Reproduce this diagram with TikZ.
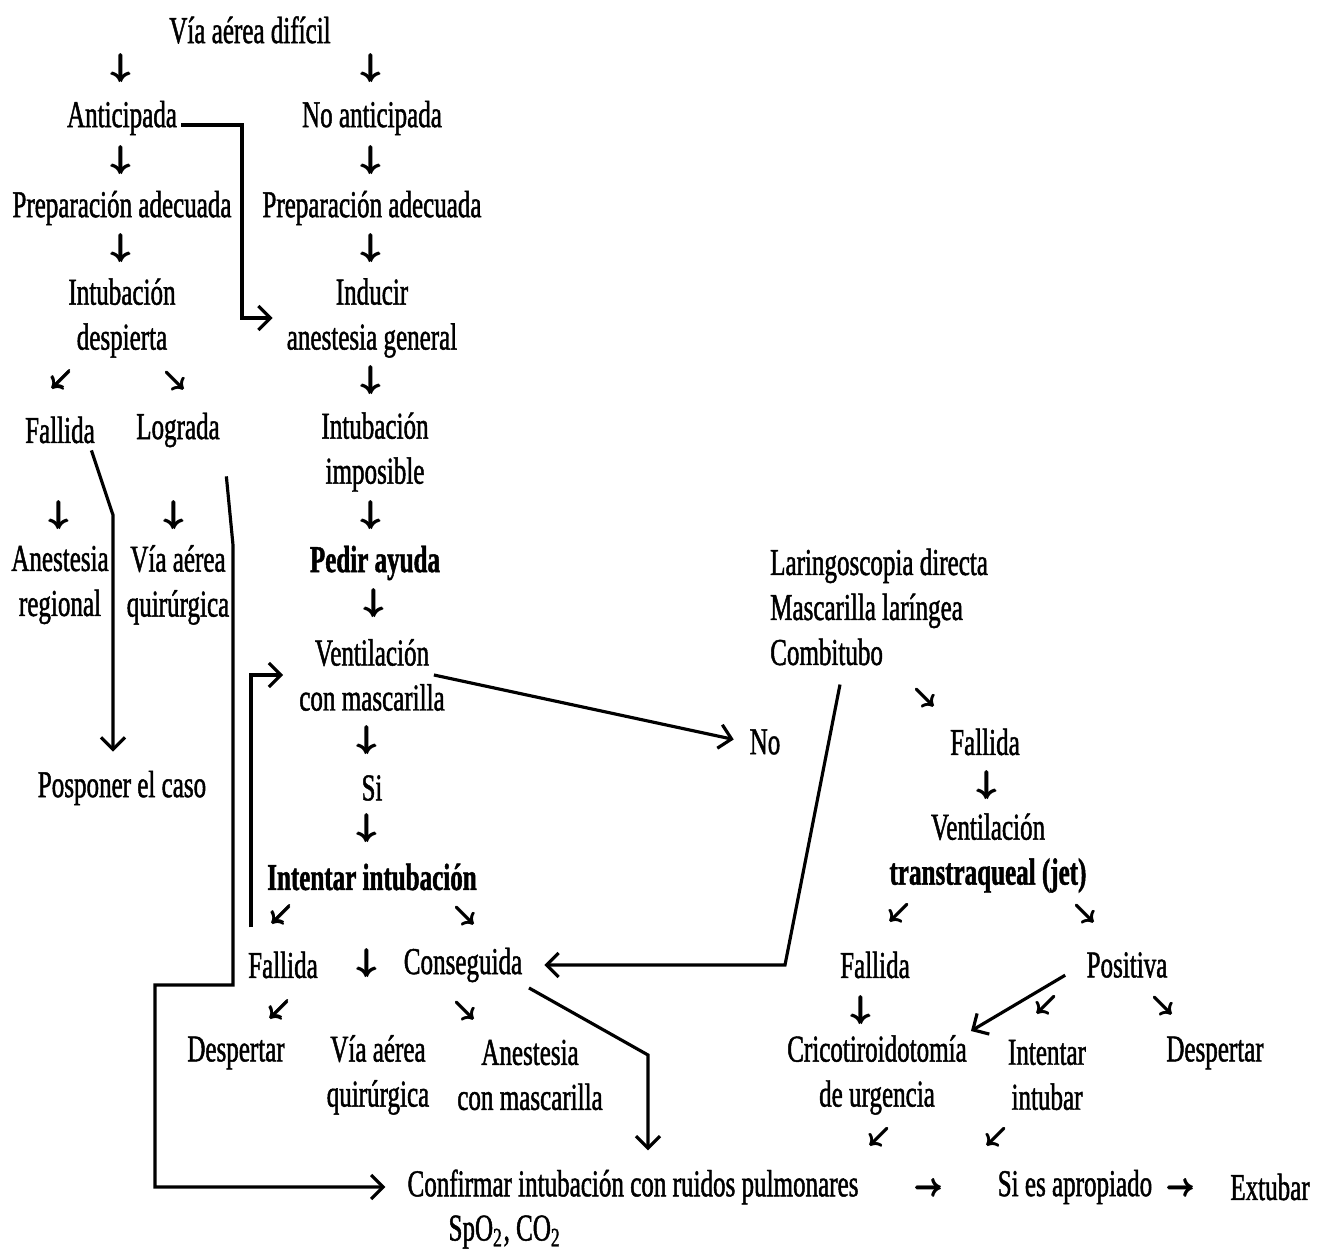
\documentclass[tikz,border=0pt]{standalone}
\usepackage{amsmath}
\usepackage{fontspec}
\setmainfont{Liberation Serif}[FakeStretch=0.66, FakeBold=1.2]
\usetikzlibrary{arrows.meta}

\begin{document}
\begin{tikzpicture}[x=0.1mm, y=-0.1mm,
  txt/.style={inner sep=1pt, align=center, font=\fontsize{10.8}{12.8}\selectfont},
  dn/.style={inner sep=0pt, font=\fontsize{9.5}{9.5}\selectfont\boldmath},
  sm/.style={inner sep=0pt, font=\fontsize{8}{8}\selectfont\boldmath},
  arr/.style={line width=0.9pt, -{Straight Barb[length=1.2mm, width=2.4mm]}}]
\useasboundingbox (0,0) rectangle (1317,1255);
% left and middle columns
\node[txt] (via) at (250,30) {Vía aérea difícil};
\node[txt] (ant) at (122,118) {Anticipada};
\node[txt] (noant) at (372,118) {No anticipada};
\node[txt] (prep1) at (122,208) {Preparación adecuada};
\node[txt] (prep2) at (372,208) {Preparación adecuada};
\node[txt] (intd) at (122,318) {Intubación\\despierta};
\node[txt] (ind) at (372,318) {Inducir\\anestesia general};
\node[txt] (fal1) at (60,430) {Fallida};
\node[txt] (log) at (178,430) {Lograda};
\node[txt] (imp) at (375,452) {Intubación\\imposible};
\node[txt] (reg) at (60,585) {Anestesia\\regional};
\node[txt] (qui1) at (178,585) {Vía aérea\\quirúrgica};
\node[txt] (ayu) at (375,563) {\textbf{Pedir ayuda}};
\node[txt] (pos) at (122,788) {Posponer el caso};
\node[txt] (ven) at (372,675) {Ventilación\\con mascarilla};
\node[txt] (si) at (372,788) {Si};
\node[txt] (int) at (372,877) {\textbf{Intentar intubación}};
\node[txt] (fal2) at (283,965) {Fallida};
\node[txt] (con) at (463,965) {Conseguida};
\node[txt] (desp1) at (236,1053) {Despertar};
\node[txt] (qui2) at (378,1075) {Vía aérea\\quirúrgica};
\node[txt] (mas) at (530,1075) {Anestesia\\con mascarilla};
% right column
\node[txt] (no) at (765,742) {No};
\node[txt, anchor=west, align=left] (lar) at (766,607) {Laringoscopia directa\\Mascarilla laríngea\\Combitubo};
\node[txt] (fal3) at (985,742) {Fallida};
\node[txt] (jet) at (988,853) {Ventilación\\\textbf{transtraqueal (jet)}};
\node[txt] (fal4) at (875,965) {Fallida};
\node[txt] (posi) at (1127,965) {Positiva};
\node[txt] (cri) at (877,1075) {Cricotiroidotomía\\de urgencia};
\node[txt] (intb) at (1047,1075) {Intentar\\intubar};
\node[txt] (desp2) at (1215,1053) {Despertar};
% bottom row
\node[txt] (conf) at (633,1187) {Confirmar intubación con ruidos pulmonares};
\node[txt] (spo) at (505,1232) {SpO\textsubscript{2}, CO\textsubscript{2}};
\node[txt] (apr) at (1075,1187) {Si es apropiado};
\node[txt] (ext) at (1270,1187) {Extubar};
% arrow glyphs
\foreach \x/\y [count=\i] in {122/68, 372/68, 122/160, 372/160, 122/248, 372/248, 372/380, 60/515, 175/515, 372/515, 375/603, 368/740, 368/828, 368/963, 988/785, 862/1010}
  \node[dn] (dn\i) at (\x,\y) {$\pmb{\downarrow}$};
\foreach \x/\y [count=\i] in {62/380, 282/915, 280/1010, 900/913, 1047/1005, 880/1137, 997/1137}
  \node[sm, rotate=-45] (sw\i) at (\x,\y) {$\pmb{\downarrow}$};
\foreach \x/\y [count=\i] in {175/380, 465/915, 465/1010, 925/697, 1085/913, 1163/1005}
  \node[sm, rotate=45] (se\i) at (\x,\y) {$\pmb{\downarrow}$};
\foreach \x/\y [count=\i] in {928/1187, 1180/1187}
  \node[sm, rotate=90] (ra\i) at (\x,\y) {$\pmb{\downarrow}$};
% connectors
\coordinate (k1) at (242,125);
\coordinate (k2) at (113,515);
\coordinate (k3) at (233,545);
\coordinate (k4) at (155,985);
\coordinate (k5) at (785,965);
\coordinate (k6) at (648,1055);
\draw[arr, shorten >=1mm] ([yshift=-0.7mm]ant.east) -| (k1 |- ind.west) -- (ind.west);
\draw[arr, shorten <=0.3mm, shorten >=1.5mm] (fal1.-30) -- (k2) -- (k2 |- pos.north);
\draw[arr, shorten <=2.5mm, shorten >=1.8mm] (log.south east) -- (k3) |- (k4) |- (conf.west);
\draw[arr, shorten <=2mm, shorten >=1.2mm] ([xshift=0.7mm]fal2.north west) |- (ven.west);
\draw[arr, shorten >=1.2mm] ([xshift=-1.5mm]ven.east) -- (no.west);
\draw[arr, shorten >=1.8mm] ([xshift=7.4mm, yshift=-1.5mm]lar.south west) -- (k5) -- (con.east);
\draw[arr, shorten <=0.3mm, shorten >=1.5mm] (con.south east) -- (k6) -- (k6 |- conf.north);
\draw[arr, shorten <=2mm] (posi.west) -- (cri.north east);
\end{tikzpicture}
\end{document}
